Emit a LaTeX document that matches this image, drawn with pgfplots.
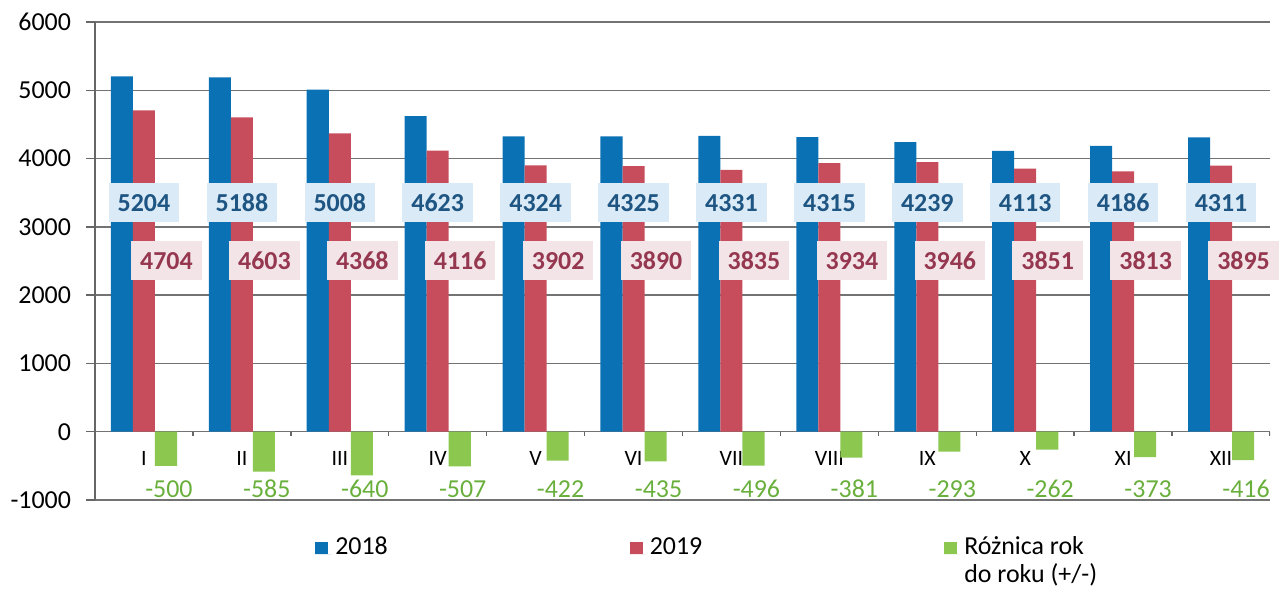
\documentclass[border=0pt]{standalone}
\usepackage{pgfplots}
\pgfplotsset{compat=1.18}
\usepackage{pgfplotstable}
\usepackage{fontspec}
\setmainfont{Carlito}
\definecolor{c18}{RGB}{10,114,180}
\definecolor{c19}{RGB}{199,77,92}
\definecolor{cd}{RGB}{140,200,80}
\definecolor{t18}{RGB}{30,85,130}
\definecolor{t19}{RGB}{150,55,80}
\definecolor{td}{RGB}{105,175,60}
\definecolor{f18}{RGB}{218,234,246}
\definecolor{f19}{RGB}{243,228,232}
\pgfplotstableread{
x y18 y19 d
0 5204 4704 -500
1 5188 4603 -585
2 5008 4368 -640
3 4623 4116 -507
4 4324 3902 -422
5 4325 3890 -435
6 4331 3835 -496
7 4315 3934 -381
8 4239 3946 -293
9 4113 3851 -262
10 4186 3813 -373
11 4311 3895 -416
}\data
\pgfplotstableread{
x t
0.5 0
1.5 0
2.5 0
3.5 0
4.5 0
5.5 0
6.5 0
7.5 0
8.5 0
9.5 0
10.5 0
11.5 0
}\ticksdata
\begin{document}
\begin{tikzpicture}
\begin{axis}[
  name=ax,
  scale only axis,
  width=587.5bp, height=239bp,
  xmin=-0.5, xmax=11.5, ymin=-1000, ymax=6000,
  axis y line*=left,
  axis x line*=bottom,
  x axis line style={draw=none},
  y axis line style={black!60, line width=0.7bp},
  ytick={-1000,0,...,6000},
  ymajorgrids,
  grid style={black!55, line width=0.7bp},
  ytick style={black!60, line width=0.7bp},
  xtick style={draw=none},
  tick align=outside,
  major tick length=4.5bp,
  xtick={0,...,11},
  xticklabels={I,II,III,IV,V,VI,VII,VIII,IX,X,XI,XII},
  xticklabel style={anchor=center, yshift=25.5bp, font=\fontsize{11}{12}\selectfont},
  yticklabel style={font=\fontsize{13}{15}\selectfont, xshift=-4bp},
  /pgf/number format/assume math mode=true,
  /pgf/number format/1000 sep={},
  legend style={draw=none, fill=none, at={(0.1872,-0.064)}, anchor=north west,
    inner sep=0pt, font=\fontsize{13}{14}\selectfont,
    cells={anchor=base west},
    /tikz/column 2/.style={column sep=119bp},
    /tikz/column 4/.style={column sep=119bp}},
  legend columns=3,
]
\addplot[ycomb, no marks, black!60, line width=0.7bp, forget plot] table[x=x, y expr=-70] {\ticksdata};
\addplot[ybar, bar width=0.225, bar shift=-0.225, fill=c18, draw=none,
  legend image code/.code={\path (0bp,0bp) -- (8bp,0bp);\fill[c18] (0bp,0.3bp) rectangle (6.5bp,6bp);}] table[x=x, y=y18] {\data};
\addlegendentry{2018}
\addplot[ybar, bar width=0.225, bar shift=0, fill=c19, draw=none,
  legend image code/.code={\path (0bp,0bp) -- (8bp,0bp);\fill[c19] (0bp,0.3bp) rectangle (6.5bp,6bp);}] table[x=x, y=y19] {\data};
\addlegendentry{2019}
\addplot[ybar, bar width=0.225, bar shift=0.225, fill=cd, draw=none,
  legend image code/.code={\path (0bp,0bp) -- (8bp,0bp);\fill[cd] (0bp,0.3bp) rectangle (6.5bp,6bp);}] table[x=x, y=d] {\data};
\addlegendentry{\begin{tabular}[t]{@{}l@{}}Różnica rok\\[0bp]do roku (+/-)\end{tabular}}
% value labels
\addplot[draw=none, mark=none, forget plot, nodes near coords, point meta=explicit symbolic,
  every node near coord/.append style={anchor=center, fill=f18, text=t18, font=\bfseries\fontsize{13}{15}\selectfont,
    inner xsep=4.5bp, inner ysep=0pt, minimum height=19.5bp}]
  table[x=x, y expr=3350, meta=y18] {\data};
\addplot[draw=none, mark=none, forget plot, nodes near coords, point meta=explicit symbolic,
  every node near coord/.append style={anchor=center, fill=f19, text=t19, font=\bfseries\fontsize{13}{15}\selectfont,
    inner xsep=4.5bp, inner ysep=0pt, minimum height=19.5bp}]
  table[x expr=\thisrow{x}+0.23, y expr=2500, meta=y19] {\data};
\addplot[draw=none, mark=none, forget plot, nodes near coords, point meta=explicit symbolic,
  every node near coord/.append style={anchor=center, text=td, font=\fontsize{13}{15}\selectfont, inner sep=0pt}]
  table[x expr=\thisrow{x}+0.255, y expr=-840, meta=d] {\data};
\end{axis}
\pgfresetboundingbox
\path[use as bounding box] ([xshift=-47.5bp, yshift=-46bp]ax.south west) rectangle ([xshift=8bp, yshift=11bp]ax.north east);
\end{tikzpicture}
\end{document}
